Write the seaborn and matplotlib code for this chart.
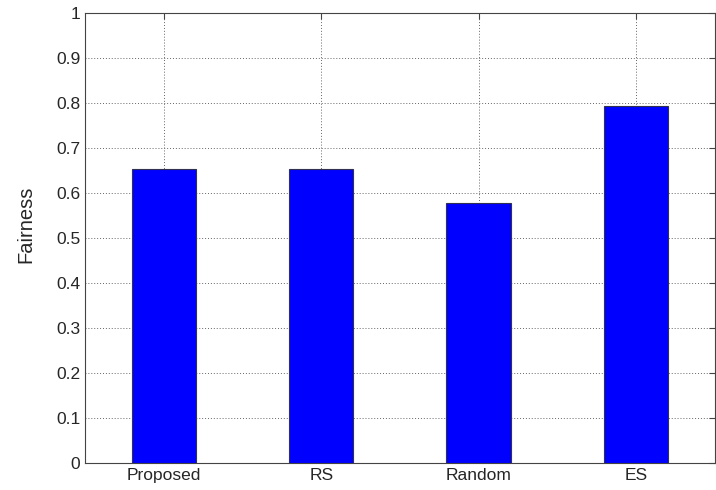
import pandas as pd
import matplotlib
matplotlib.use("Agg")
import matplotlib.pyplot as plt
import seaborn as sns

# Data
schemes = ["Proposed", "RS", "Random", "ES"]
fairness = [0.654, 0.654, 0.578, 0.793]
y_ticks = [0, 0.1, 0.2, 0.3, 0.4, 0.5, 0.6, 0.7, 0.8, 0.9, 1]
y_tick_labels = ["0", "0.1", "0.2", "0.3", "0.4", "0.5", "0.6", "0.7", "0.8", "0.9", "1"]

sns.set_style("white")
plt.rcParams['font.family'] = ['Liberation Sans', 'DejaVu Sans']

df = pd.DataFrame({"Scheme": schemes, "Fairness": fairness})

fig = plt.figure(figsize=(7.16, 4.9), dpi=100)
ax = fig.add_axes([0.119, 0.055, 0.879, 0.918])

sns.barplot(data=df, x="Scheme", y="Fairness", color="#0000ff", saturation=1,
            width=0.41, edgecolor="#303050", linewidth=0.8, ax=ax, zorder=3)

ax.set_xlim(-0.5, 3.5)
ax.set_ylim(0, 1)
ax.set_yticks(y_ticks)
ax.set_yticklabels(y_tick_labels)
ax.set_xlabel("")
ax.set_ylabel("Fairness", fontsize=14.5)
ax.yaxis.set_label_coords(-0.079, 0.53)

ax.grid(True, linestyle=(0, (1, 2)), color="#666666", linewidth=0.7, zorder=0)
ax.set_axisbelow(True)
ax.tick_params(direction="in", length=4, labelsize=12.5, top=True, right=True,
               labeltop=False, labelright=False, color="#444444")
for s in ax.spines.values():
    s.set_visible(True)
    s.set_color("#444444")
    s.set_linewidth(0.8)

fig.savefig("out.png", dpi=100)
